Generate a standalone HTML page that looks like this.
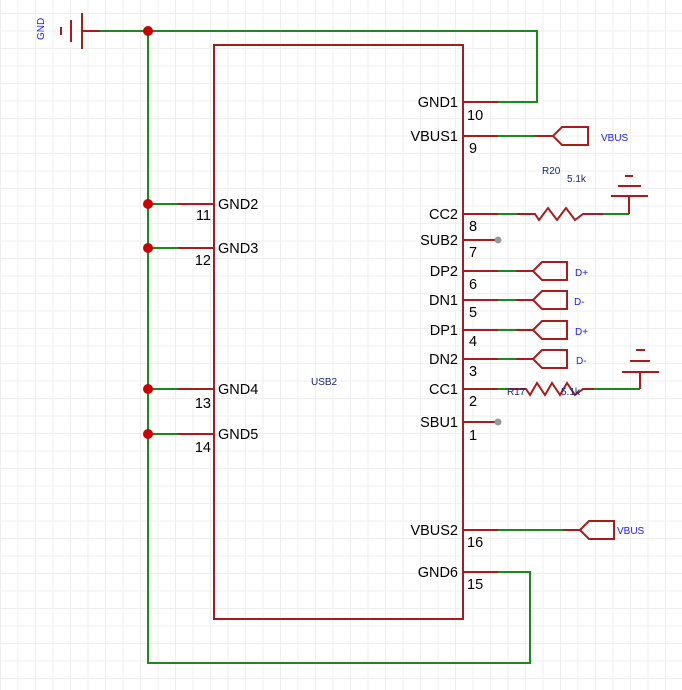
<!DOCTYPE html>
<html><head><meta charset="utf-8"><style>
html,body{margin:0;padding:0;background:#fff;}
svg{display:block;}
text{font-family:"Liberation Sans",Arial,sans-serif;}
</style></head><body>
<svg width="682" height="690" viewBox="0 0 682 690" xmlns="http://www.w3.org/2000/svg">
<defs>
<pattern id="g" width="17.5" height="17.5" patternUnits="userSpaceOnUse" x="0" y="13">
<path d="M0 0.5H17.5M0.5 0V17.5" stroke="#efefef" stroke-width="1" fill="none"/>
</pattern>
</defs>
<rect width="682" height="690" fill="url(#g)"/>
<g fill="none" stroke-width="2">
<g stroke="#1a8a1a">
<polyline points="82,31 537,31 537,102 498,102"/>
<polyline points="148,31 148,663 530,663 530,572 498,572"/>
<line x1="148" y1="204" x2="178" y2="204"/>
<line x1="148" y1="248" x2="178" y2="248"/>
<line x1="148" y1="389" x2="178" y2="389"/>
<line x1="148" y1="434" x2="178" y2="434"/>
<line x1="498" y1="136" x2="535" y2="136"/>
<line x1="498" y1="214" x2="517" y2="214"/>
<polyline points="603,214 629,214"/>
<line x1="498" y1="271" x2="516" y2="271"/>
<line x1="498" y1="300" x2="516" y2="300"/>
<line x1="498" y1="330" x2="516" y2="330"/>
<line x1="498" y1="359" x2="516" y2="359"/>
<line x1="498" y1="389" x2="510" y2="389"/>
<line x1="594" y1="389" x2="640" y2="389"/>
<line x1="498" y1="530" x2="563" y2="530"/>
</g>
<g stroke="#a81c1c">
<rect x="214" y="45" width="249" height="574"/>
<line x1="178" y1="204" x2="214" y2="204"/>
<line x1="178" y1="248" x2="214" y2="248"/>
<line x1="178" y1="389" x2="214" y2="389"/>
<line x1="178" y1="434" x2="214" y2="434"/>
<line x1="463" y1="102" x2="498" y2="102"/>
<line x1="463" y1="136" x2="498" y2="136"/>
<line x1="463" y1="214" x2="498" y2="214"/>
<line x1="463" y1="240" x2="498" y2="240"/>
<line x1="463" y1="271" x2="498" y2="271"/>
<line x1="463" y1="300" x2="498" y2="300"/>
<line x1="463" y1="330" x2="498" y2="330"/>
<line x1="463" y1="359" x2="498" y2="359"/>
<line x1="463" y1="389" x2="498" y2="389"/>
<line x1="463" y1="422" x2="498" y2="422"/>
<line x1="463" y1="530" x2="498" y2="530"/>
<line x1="463" y1="572" x2="498" y2="572"/>
<line x1="82" y1="31" x2="100" y2="31"/>
<line x1="82" y1="13" x2="82" y2="49"/>
<line x1="71" y1="20" x2="71" y2="42"/>
<line x1="61" y1="27" x2="61" y2="35"/>
<line x1="535" y1="136" x2="553" y2="136"/>
<polygon points="553,136 562,127 588,127 588,145 562,145"/>
<polyline points="517,214 535,214 539,220 548,208 557,220 566,208 575,220 583,214 603,214"/>
<polyline points="629,214 629,196"/>
<line x1="611" y1="196" x2="648" y2="196"/>
<line x1="618" y1="186" x2="641" y2="186"/>
<line x1="625" y1="176" x2="633" y2="176"/>
<line x1="516" y1="271" x2="533" y2="271"/><polygon points="533,271 542,262 567,262 567,280 542,280"/>
<line x1="516" y1="300" x2="533" y2="300"/><polygon points="533,300 542,291 567,291 567,309 542,309"/>
<line x1="516" y1="330" x2="533" y2="330"/><polygon points="533,330 542,321 567,321 567,339 542,339"/>
<line x1="516" y1="359" x2="533" y2="359"/><polygon points="533,359 542,350 567,350 567,368 542,368"/>
<polyline points="510,389 526,389 530,395 537,383 545,395 552,383 560,395 567,383 575,395 583,389 594,389"/>
<line x1="640" y1="389" x2="640" y2="372"/>
<line x1="622" y1="372" x2="659" y2="372"/>
<line x1="630" y1="361" x2="650" y2="361"/>
<line x1="636" y1="350" x2="645" y2="350"/>
<line x1="563" y1="530" x2="580" y2="530"/>
<polygon points="580,530 589,521 614,521 614,539 589,539"/>
</g>
</g>
<g fill="#cc0000">
<circle cx="148" cy="31" r="5"/><circle cx="148" cy="204" r="5"/><circle cx="148" cy="248" r="5"/><circle cx="148" cy="389" r="5"/><circle cx="148" cy="434" r="5"/>
</g>
<g fill="#999"><circle cx="498" cy="240" r="3.5"/><circle cx="498" cy="422" r="3.5"/></g>
<g font-size="14.5" fill="#000">
<text x="218" y="209">GND2</text>
<text x="218" y="253">GND3</text>
<text x="218" y="394">GND4</text>
<text x="218" y="439">GND5</text>
<g text-anchor="end">
<text x="211" y="220">11</text><text x="211" y="265">12</text><text x="211" y="408">13</text><text x="211" y="452">14</text>
<text x="458" y="107">GND1</text><text x="458" y="141">VBUS1</text><text x="458" y="219">CC2</text><text x="458" y="245">SUB2</text>
<text x="458" y="276">DP2</text><text x="458" y="305">DN1</text><text x="458" y="335">DP1</text><text x="458" y="364">DN2</text>
<text x="458" y="394">CC1</text><text x="458" y="427">SBU1</text><text x="458" y="535">VBUS2</text><text x="458" y="577">GND6</text>
</g>
<text x="467" y="120">10</text><text x="469" y="153">9</text><text x="469" y="231">8</text><text x="469" y="257">7</text>
<text x="469" y="289">6</text><text x="469" y="317">5</text><text x="469" y="346">4</text><text x="469" y="376">3</text>
<text x="469" y="406">2</text><text x="469" y="440">1</text><text x="467" y="547">16</text><text x="467" y="589">15</text>
</g>
<g font-size="10" fill="#1a1aff">
<text x="601" y="141">VBUS</text>
<text x="575" y="276">D+</text><text x="574" y="305">D-</text><text x="575" y="335">D+</text><text x="576" y="364">D-</text>
<text x="617" y="534">VBUS</text>
<text transform="translate(44,40) rotate(-90)">GND</text>
</g>
<g font-size="10" fill="#1a237e">
<text x="542" y="174">R20</text><text x="567" y="182">5.1k</text>
<text x="507" y="395">R17</text><text x="561" y="395">5.1k</text>
<text x="311" y="385">USB2</text>
</g>
</svg>
</body></html>
